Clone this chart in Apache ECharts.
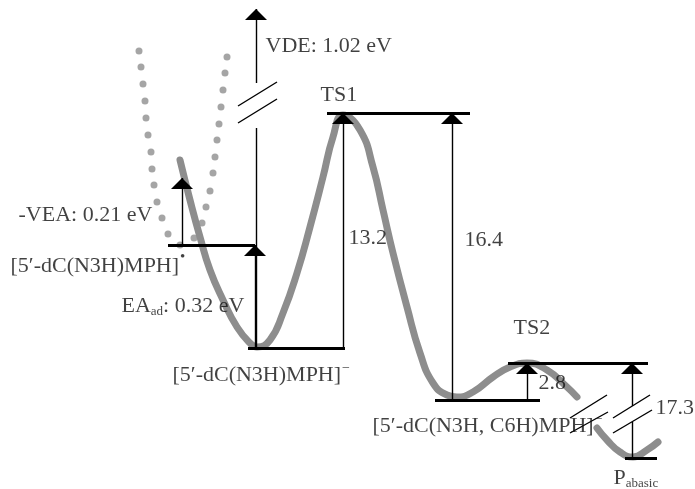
<!DOCTYPE html>
<html>
<head>
<meta charset="utf-8">
<script src="https://cdn.jsdelivr.net/npm/echarts@6/dist/echarts.min.js"></script>
<style>
html,body{margin:0;padding:0;background:#fff;}
#chart{width:695px;height:489px;}
</style>
</head>
<body>
<div id="chart"></div>
<script>
// Schematic coordinates: x = reaction coordinate, E = schematic relative energy
const mainPathX = [18.0,19.0,20.0,21.0,22.3,23.7,25.0,25.7,27.0,28.3,29.7,31.0,32.3,33.3,34.3,36.0,37.3,38.3,39.3,40.7,42.0,43.3,44.7,45.7,47.3,49.3,51.0,52.7,54.7,56.7,57.7];
const mainPathE = [32.9,28.9,25.2,21.9,18.9,16.2,14.6,14.2,14.9,17.6,21.6,26.2,31.2,35.2,37.4,35.9,32.2,27.9,23.6,18.2,13.6,10.6,9.4,9.2,9.7,11.2,12.2,12.6,11.9,10.2,9.2];
const productPathX = [59.7,60.7,62.0,63.3,64.7,65.8];
const productPathE = [6.1,4.9,3.7,3.2,3.9,4.7];
const radicalDotsX = [13.9,14.1,14.3,14.5,14.6,14.8,15.1,15.2,15.4,15.7,16.2,16.8,18.0,19.4,20.2,20.6,21.0,21.3,21.5,21.7,21.9,22.1,22.3,22.5,22.7];
const radicalDotsE = [43.8,42.2,40.5,38.8,37.1,35.4,33.7,32.0,30.4,28.7,27.1,25.5,24.4,25.1,26.6,28.2,29.8,31.6,33.2,34.9,36.5,38.2,39.9,41.6,43.2];

// Energy levels
const levelE     = [24.4, 14.1, 37.6, 8.9, 12.6, 3.1];
const levelXFrom = [16.8, 24.8, 32.7, 43.5, 50.8, 62.5];
const levelXTo   = [25.5, 34.5, 47.0, 54.0, 64.8, 65.7];

// Arrow segments (x, from E, to E, has head)
const arrowX    = [18.2, 25.5, 25.6, 25.6, 34.3, 45.2, 52.7, 63.2, 63.2];
const arrowFrom = [24.4, 14.1, 14.1, 40.6, 14.1, 8.9, 8.9, 3.1, 8.3];
const arrowTo   = [31.1, 24.4, 36.1, 48.0, 37.6, 37.6, 12.6, 6.7, 12.6];
const arrowHead = [true, true, false, true, true, true, true, false, true];

// Axis-break slashes
const breakX0 = [23.8, 23.8, 57.0, 57.0, 61.3, 61.3];
const breakE0 = [38.3, 36.6, 7.1, 5.6, 7.1, 5.6];
const breakX1 = [27.7, 27.7, 60.7, 60.8, 65.0, 65.2];
const breakE1 = [40.7, 39.0, 9.4, 7.7, 9.4, 7.9];

// Text labels
const labelTexts = [
  'VDE: 1.02 eV',
  'TS1',
  '-VEA: 0.21 eV',
  '[5′-dC(N3H)MPH]{dot|•}',
  '{t|EA}{sub|ad}{t|: 0.32 eV}',
  '[5′-dC(N3H)MPH]{sup|−}',
  '13.2',
  '16.4',
  'TS2',
  '2.8',
  '[5′-dC(N3H, C6H)MPH]{sup|−}',
  '17.3',
  '{t|P}{sub|abasic}'
];
const labelX = [26.5, 32.0, 1.8, 1.0, 12.1, 17.2, 34.8, 46.4, 51.3, 53.8, 37.2, 65.5, 61.3];
const labelE = [44.3, 39.4, 27.4, 22.3, 18.3, 11.4, 25.1, 24.9, 16.1, 10.6, 6.3, 8.1, 1.1];

const zip = (xs, ys) => xs.map((x, i) => [x, ys[i]]);
const arrowPath = 'path://M5 0 M5 11 L10 22 L0 22 Z';
const FONT = '"Liberation Serif","Times New Roman",serif';

const chart = echarts.init(document.getElementById('chart'), null, {renderer: 'canvas'});
chart.setOption({
  backgroundColor: '#ffffff',
  animation: false,
  grid: {left: 0, right: 0, top: 0, bottom: 0},
  xAxis: {type: 'value', min: 0, max: 69.5, show: false},
  yAxis: {type: 'value', min: 0, max: 48.9, show: false},
  series: [
    {
      type: 'line', data: zip(mainPathX, mainPathE), smooth: true, showSymbol: false,
      lineStyle: {color: '#8d8d8d', width: 7, cap: 'round'}, z: 2
    },
    {
      type: 'line', data: zip(productPathX, productPathE), smooth: true, showSymbol: false,
      lineStyle: {color: '#8d8d8d', width: 7, cap: 'round'}, z: 2
    },
    {
      type: 'scatter', data: zip(radicalDotsX, radicalDotsE), symbolSize: 7,
      itemStyle: {color: '#8f8f8f'}, z: 2
    },
    {
      type: 'lines', coordinateSystem: 'cartesian2d', z: 4,
      symbol: ['none', 'none'],
      lineStyle: {color: '#000', width: 3, opacity: 1},
      data: levelE.map((e, i) => ({coords: [[levelXFrom[i], e], [levelXTo[i], e]]}))
    },
    {
      type: 'lines', coordinateSystem: 'cartesian2d', z: 5,
      symbol: ['none', arrowPath], symbolSize: [9, 22],
      lineStyle: {color: '#000', width: 1.4, opacity: 1},
      data: arrowX.map((x, i) => arrowHead[i] ? ({coords: [[x, arrowFrom[i]], [x, arrowTo[i]]]}) : null).filter(Boolean)
    },
    {
      type: 'lines', coordinateSystem: 'cartesian2d', z: 5,
      symbol: ['none', 'none'],
      lineStyle: {color: '#000', width: 1.4, opacity: 1},
      data: arrowX.map((x, i) => !arrowHead[i] ? ({coords: [[x, arrowFrom[i]], [x, arrowTo[i]]]}) : null).filter(Boolean)
        .concat(breakX0.map((x, i) => ({coords: [[x, breakE0[i]], [breakX1[i], breakE1[i]]]})))
    },
    {
      type: 'scatter', z: 6, symbolSize: 1,
      itemStyle: {color: 'rgba(0,0,0,0)'},
      data: labelTexts.map((t, i) => ({value: [labelX[i], labelE[i]], label: {formatter: t}})),
      label: {
        show: true, position: 'right', distance: 0,
        fontFamily: FONT, fontSize: 22, color: '#111',
        rich: {
          t: {fontFamily: FONT, fontSize: 22, color: '#111'},
          sub: {fontFamily: FONT, fontSize: 13, color: '#111', padding: [11, 0, 0, 0]},
          sup: {fontFamily: FONT, fontSize: 14, color: '#111', padding: [0, 0, 13, 1]},
          dot: {fontFamily: FONT, fontSize: 15, color: '#111', padding: [0, 0, 17, 1]}
        }
      },
      emphasis: {disabled: true}
    }
  ]
});
</script>
</body>
</html>
